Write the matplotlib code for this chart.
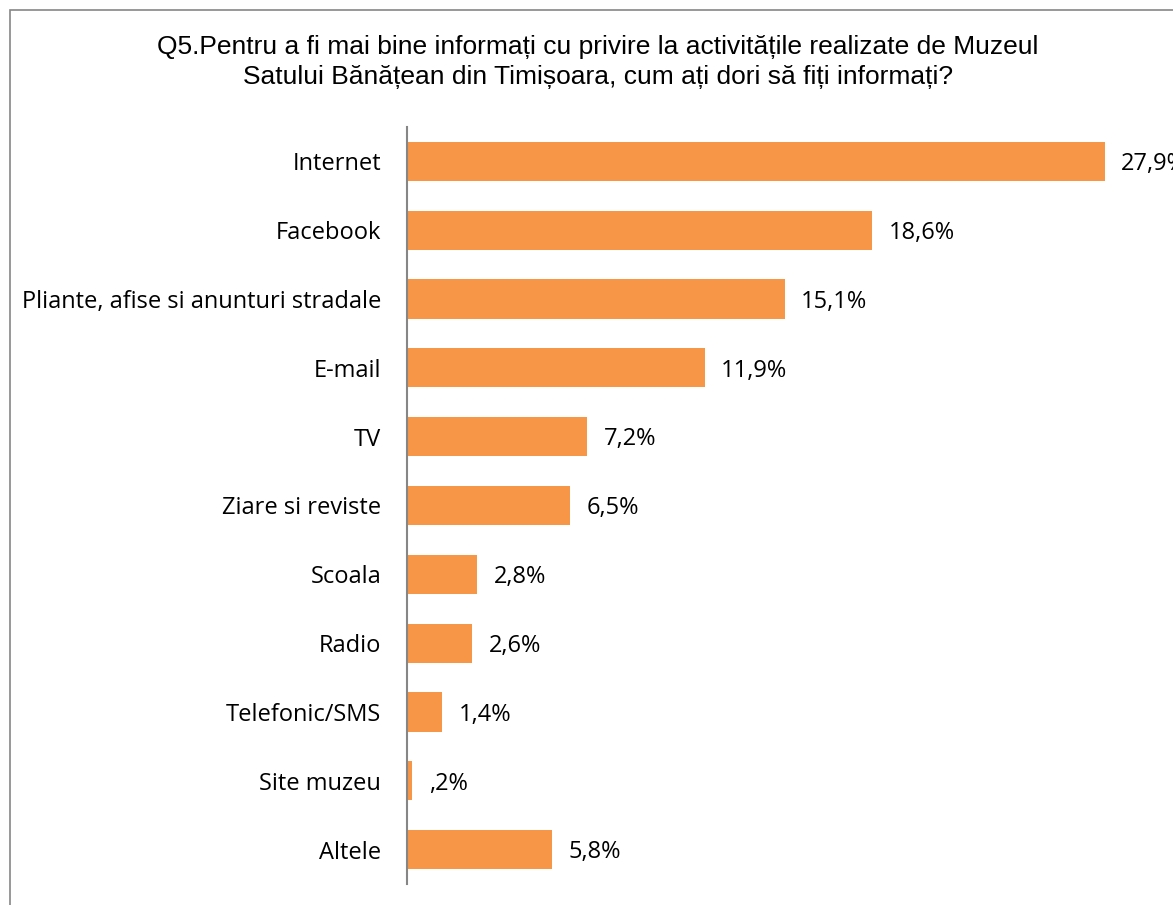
import matplotlib.pyplot as plt
from matplotlib.patches import Rectangle

categories = ['Internet', 'Facebook', 'Pliante, afise si anunturi stradale', 'E-mail', 'TV',
              'Ziare si reviste', 'Scoala', 'Radio', 'Telefonic/SMS', 'Site muzeu', 'Altele']
values = [27.9, 18.6, 15.1, 11.9, 7.2, 6.5, 2.8, 2.6, 1.4, 0.2, 5.8]
value_labels = ['27,9%', '18,6%', '15,1%', '11,9%', '7,2%', '6,5%', '2,8%', '2,6%', '1,4%', ',2%', '5,8%']

title = ('Q5.Pentru a fi mai bine informați cu privire la activitățile realizate de Muzeul\n'
         'Satului Bănățean din Timișoara, cum ați dori să fiți informați?')

fig = plt.figure(figsize=(11.73, 9.05), dpi=100)
ax = fig.add_axes([407 / 1173, 21 / 905, 750 / 1173, 757 / 905])

pos = list(range(len(categories)))
ax.barh(pos, values, height=0.57, color='#F79646')
ax.set_ylim(len(categories) - 0.5, -0.5)
ax.set_xlim(0, 30)

ax.set_yticks(pos)
ax.set_yticklabels(categories, fontsize=17, family=['Open Sans', 'DejaVu Sans'])
ax.tick_params(axis='y', length=0, pad=18.5)
ax.set_xticks([])

for p, v, lab in zip(pos, values, value_labels):
    ax.annotate(lab, (v, p), xytext=(12, -2), textcoords='offset points',
                va='center', ha='left', fontsize=17, family=['Open Sans', 'DejaVu Sans'],
                annotation_clip=False)

for s in ['top', 'right', 'bottom']:
    ax.spines[s].set_visible(False)
ax.spines['left'].set_color('#868686')
ax.spines['left'].set_linewidth(1.5)

fig.text(598 / 1173, 1 - 62 / 905, title, ha='center', va='center', fontsize=19,
         family='Liberation Sans', linespacing=1.32)

fig.patches.append(Rectangle((10 / 1173, -0.1), 1.2, 1 - 10 / 905 + 0.1, transform=fig.transFigure,
                             fill=False, edgecolor='#868686', linewidth=1.2))

fig.savefig('out.png', dpi=100)
